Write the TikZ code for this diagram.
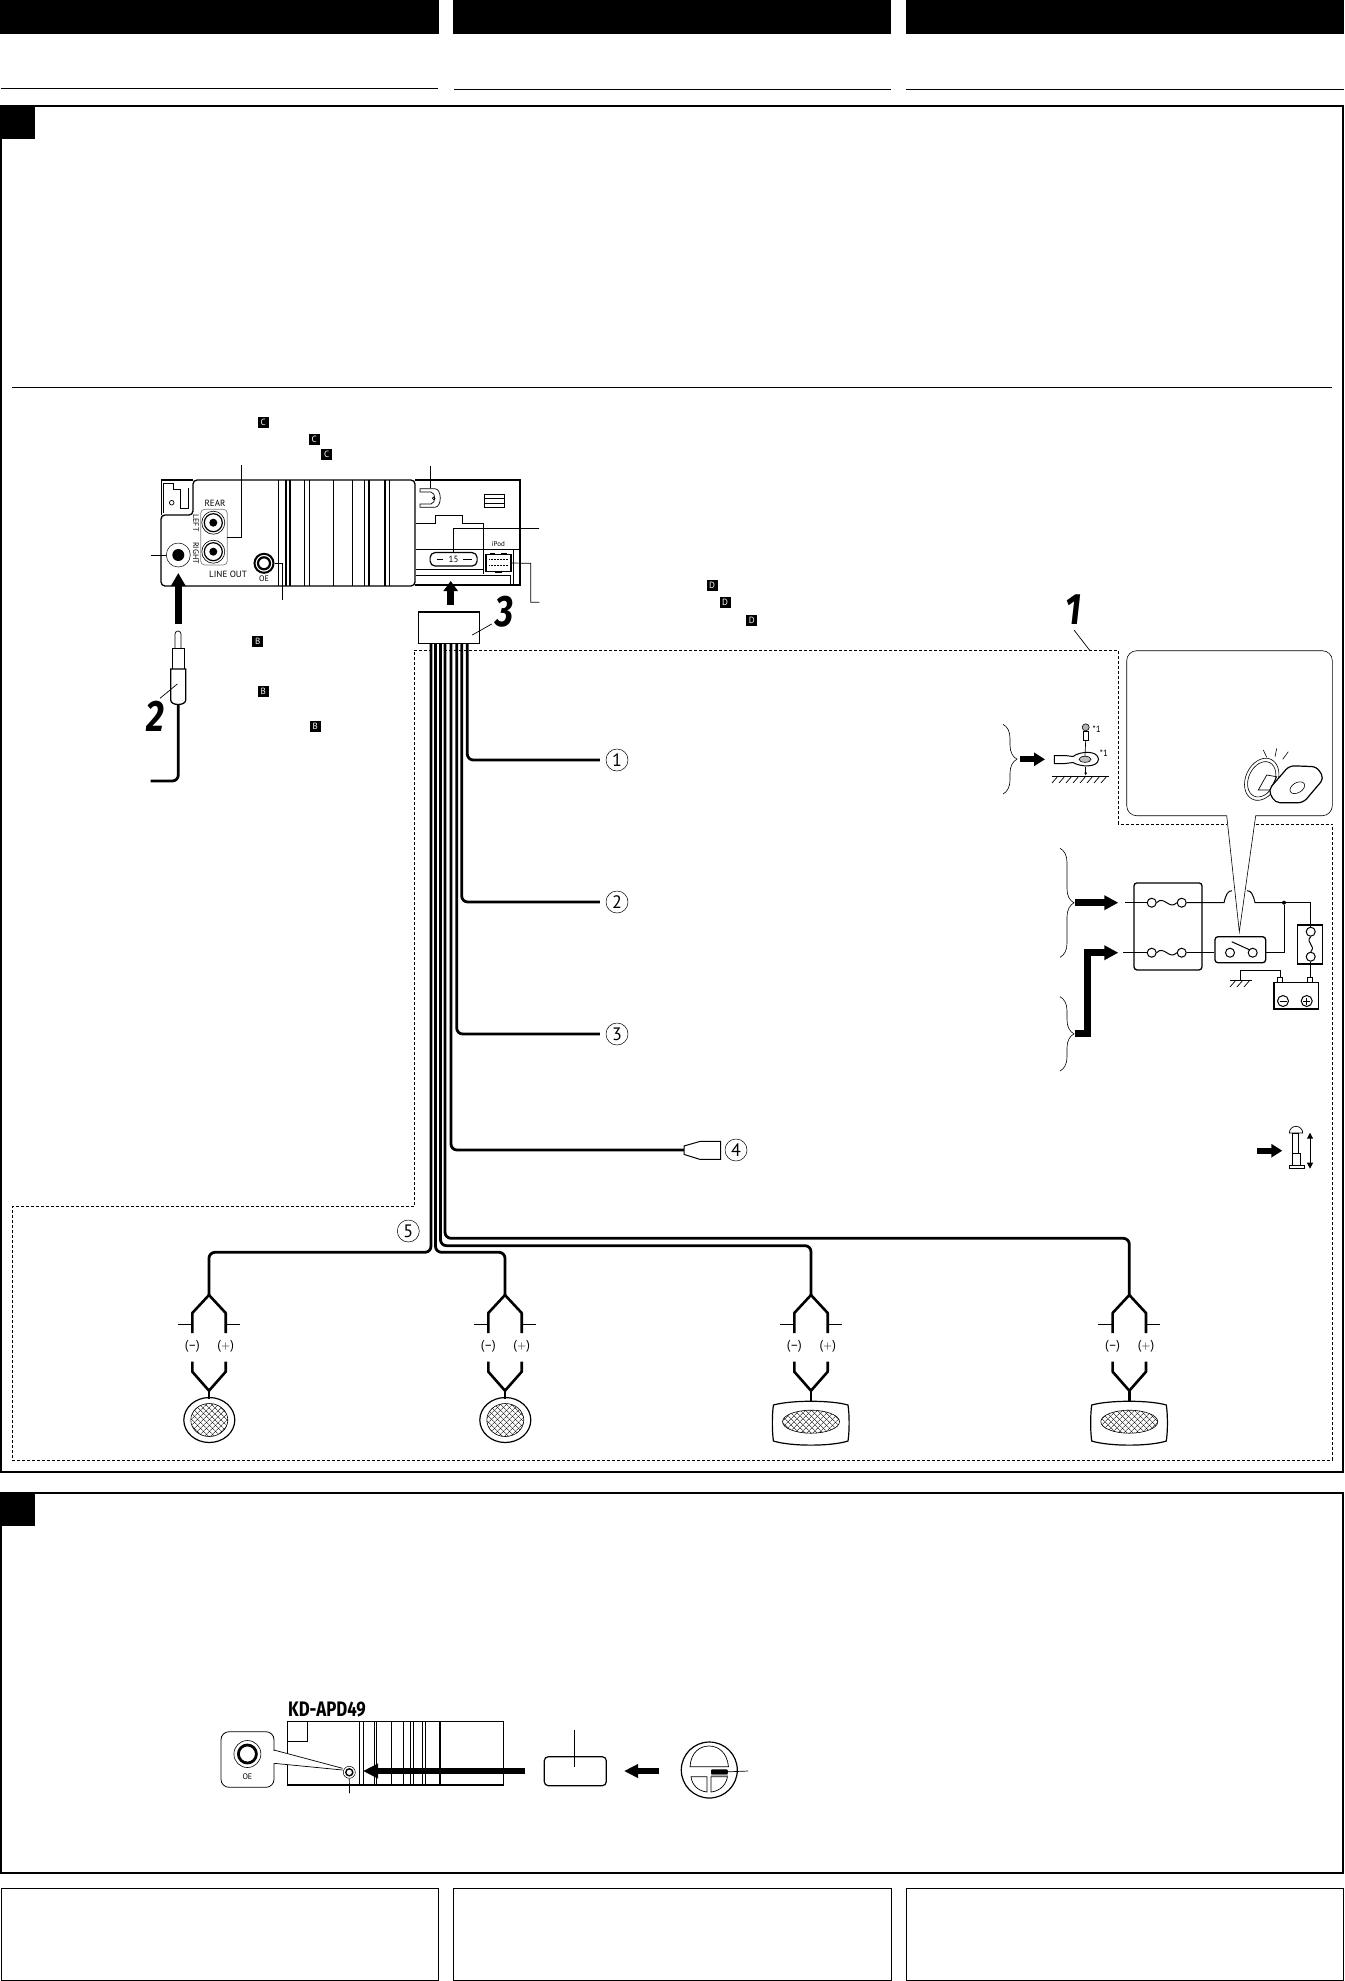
\documentclass[tikz,border=0pt]{standalone}
\usepackage{fontspec}
\setmainfont{PT Sans}
\newfontfamily\numfont[FakeStretch=0.8]{Fira Sans}
\usetikzlibrary{arrows.meta,patterns.meta,shapes.geometric,decorations.pathreplacing}

\begin{document}
\begin{tikzpicture}[x=1pt, y=-1pt,
  frame/.style={line width=1.6pt},
  outline/.style={line width=1.3pt},
  thin line/.style={line width=.6pt},
  lead/.style={line width=.7pt},
  wire/.style={line width=2.8pt, rounded corners=6pt},
  fork/.style={line width=2.6pt, line join=bevel},
  dashframe/.style={line width=1pt, dash pattern=on 3pt off 2pt},
  bigarrow/.style={line width=6.5pt, -{Triangle[length=13pt,width=14pt]}},
  num/.style={circle, draw, fill=white, line width=.5pt, inner sep=0pt, minimum size=22pt, font=\fontsize{18}{18}\selectfont},
  bignum/.style={inner sep=0pt, font=\numfont\bfseries\itshape\fontsize{44}{44}\selectfont},
  badge/.style={fill=black, text=white, inner sep=0pt, minimum size=11pt, font=\fontsize{9}{9}\selectfont},
  small/.style={inner sep=0pt, font=\fontsize{9}{9}\selectfont},
  pol/.style={inner sep=0pt, font=\fontsize{13}{13}\selectfont},
  term/.style={circle, draw, fill=white, line width=1pt, inner sep=0pt, minimum size=9pt},
  bracedown/.style={thin line, decorate, decoration={brace, amplitude=14pt}},
  meshed/.style={preaction={pattern={Lines[angle=45,distance=4pt,line width=.5pt]}},
    pattern={Lines[angle=-45,distance=4pt,line width=.5pt]}}]
  \useasboundingbox (0,0) rectangle (1344,1981);

  % Page
  \fill (0,0) rectangle (439,34);
  \fill (453,0) rectangle (891,34);
  \fill (906,0) rectangle (1344,34);
  \draw[line width=1pt] (1,88.5) -- (438,88.5);
  \draw[line width=1pt] (454,89) -- (891,89);
  \draw[line width=1pt] (906,89) -- (1344,89);
  \draw[frame] (1,106) rectangle (1343,1472);
  \fill (0,106) rectangle (35,139);
  \draw[line width=.8pt] (12,387) -- (1332,387);
  \draw[frame] (1,1493) rectangle (1343,1873);
  \fill (0,1493) rectangle (35,1526);
  \draw[line width=.8pt] (1,1888) rectangle (438,1980);
  \draw[line width=.8pt] (453,1888) rectangle (891,1980);
  \draw[line width=.8pt] (906,1888) rectangle (1343,1980);

  % Dashed area
  \coordinate (d1) at (414,650.7);
  \coordinate (d2) at (1118.3,650.7);
  \draw[dashframe] (d1) -- (d2) -- (1118.3,824) -- (1332.3,824) -- (1332.3,1460) -- (12,1460) -- (12,1206.7) -- (414,1206.7) -- cycle;

  % Unit
  \draw[outline, rounded corners=4pt] (193,515) -- (193,480) -- (415,480) -- (415,586) -- (161,586) -- (161,515) -- cycle;
  \draw[outline] (161.5,515) -- (161.5,480) -- (193,480);
  \draw[lead] (163.3,513.3) -- (163.3,483.3) -- (173.3,483.3) -- (173.3,489.3) -- (180,489.3) -- (180,508.3) -- (188.3,508.3) -- (188.3,488.3);
  \draw[lead] (171.7,502.7) circle (2.3);
  \draw[outline] (415,480) -- (520,480) -- (520,585) -- (415,585);
  \draw[line width=1.6pt] (278.3,480) -- (278.3,586);
  \draw[line width=1.6pt] (285.7,480) -- (285.7,586);
  \draw[line width=1.6pt] (290,480) -- (290,586);
  \draw[lead] (304.3,480) -- (304.3,586);
  \draw[lead] (309.3,480) -- (309.3,586);
  \draw[lead] (333.3,480) -- (333.3,586);
  \draw[line width=1.6pt] (352.3,480) -- (352.3,586);
  \draw[line width=1.6pt] (364.3,480) -- (364.3,586);
  \draw[line width=1.2pt] (369,480) -- (369,586);
  \draw[line width=1.6pt] (385,480) -- (385,586);
  \draw[line width=1.2pt] (389.3,480) -- (389.3,586);

  % Line out
  \node[small] (rear) at (215,503) {REAR};
  \node[small, rotate=-90, font=\fontsize{8}{8}\selectfont] (left) at (196,523) {LEFT};
  \node[small, rotate=-90, font=\fontsize{8}{8}\selectfont] (right) at (196,553) {RIGHT};
  \node[small] (lineout) at (228,574) {LINE OUT};
  \draw[lead, rounded corners=4pt, gray] (200.7,509.3) rectangle (227.3,565);
  \node[circle, draw, line width=.6pt, minimum size=23pt, inner sep=0pt] (rca1o) at (213.3,522.7) {};
  \node[circle, draw, line width=1.2pt, minimum size=18pt, inner sep=0pt] at (rca1o) {};
  \node[circle, fill, minimum size=8pt, inner sep=0pt] at (rca1o) {};
  \node[circle, draw, line width=.6pt, minimum size=23pt, inner sep=0pt] (rca2o) at (213.3,551.7) {};
  \node[circle, draw, line width=1.2pt, minimum size=18pt, inner sep=0pt] at (rca2o) {};
  \node[circle, fill, minimum size=8pt, inner sep=0pt] at (rca2o) {};
  \coordinate (lineoutlead) at (241.7,465);
  \draw[lead] (lineoutlead) -- (241.7,537.3) -- (227.3,537.3);

  % Antenna jack
  \node[circle, draw, line width=.5pt, minimum size=24pt, inner sep=0pt] (antjack) at (178.3,555) {};
  \node[circle, fill, minimum size=12pt, inner sep=0pt] at (antjack) {};
  \coordinate (antlead) at (150.7,555);
  \draw[lead] (antlead) -- (antjack.west);

  % Optical out
  \node[circle, draw, line width=2pt, minimum size=19pt, inner sep=0pt] (oe) at (264,563.3) {};
  \node[circle, draw, line width=2.2pt, minimum size=12pt, inner sep=0pt] at (oe) {};
  \node[small, font=\fontsize{8}{8}\selectfont] (oelabel) at (264,579) {OE};
  \coordinate (oelead) at (282.3,600);
  \draw[lead] (oe.east) -| (oelead);

  % Top right of the unit
  \coordinate (brlead) at (430.7,466);
  \draw[lead] (brlead) -- (430.7,488.3);
  \draw[lead] (420,488.7) -- (435,488.7) .. controls (442,489) and (442,507) .. (435,507.3) -- (420,507.3) -- (420,504) -- (431,504) .. controls (436,503) and (436,493) .. (431,492) -- (420,492) -- cycle;
  \draw[lead] (433.7,498.3) circle (1.3);
  \draw[lead] (484.3,494.3) rectangle (504.3,507.3);
  \draw[lead] (484.3,498.6) -- (504.3,498.6);
  \draw[lead] (484.3,502.9) -- (504.3,502.9);
  \draw[lead] (416,523.3) -- (435,523.3) -- (435,515.7) -- (462.3,515.7) -- (462.3,523.3) -- (483.3,523.3) -- (483.3,574);
  \draw[thin line] (416,549) -- (520,549);
  \draw[thin line] (416,569.3) -- (483.3,569.3);
  \draw[line width=1pt] (416,575) -- (510.7,575) -- (510.7,585);
  \draw[thin line] (513.3,549) -- (513.3,585);
  \node[small, font=\fontsize{7}{7}\selectfont] (ipod) at (498.3,544.3) {iPod};

  % Fuse
  \node[draw, line width=1.2pt, rounded corners=5pt, minimum width=47pt, minimum height=13.5pt, inner sep=0pt, font=\fontsize{9}{9}\selectfont] (fuse15) at (453.6,559.3) {15};
  \draw[line width=1.6pt] (436.7,559.3) -- (443.3,559.3);
  \draw[line width=1.6pt] (463.3,559.3) -- (471.7,559.3);
  \coordinate (fuselead) at (539.3,528.3);
  \draw[lead] (fuselead) -| (fuse15.north);

  % iPod terminal
  \node[draw, line width=1.4pt, minimum width=25pt, minimum height=17.5pt, inner sep=0pt] (ipodconn) at (498.3,563) {};
  \draw[line width=.5pt, densely dotted] (489.3,559.3) -- (508.3,559.3);
  \draw[line width=.5pt, densely dotted] (489.3,565) -- (508.3,565);
  \fill (490,552.5) rectangle (495,555);
  \fill (501,552.5) rectangle (507,555);
  \fill (495,571) rectangle (502,573);
  \coordinate (ipodlead) at (539.3,602.3);
  \draw[lead] (ipodconn.east) -- (530.7,563.3) -- (530.7,602.3) -- (ipodlead);

  % Antenna plug
  \coordinate (antfrom) at (178.3,624);
  \coordinate (antto) at (178.3,573);
  \draw[bigarrow] (antfrom) -- (antto);
  \draw[lead] (175,648) -- (175,634) arc[start angle=180, end angle=360, radius=3] -- (181,648);
  \draw[lead] (172.7,648) rectangle (184,669);
  \draw[outline, fill=white] (170.7,669) -- (185.7,669) -- (185.7,700) .. controls (185.7,706) and (170.7,706) .. (170.7,700) -- cycle;
  \coordinate (plug) at (178.3,705);
  \coordinate (plugend) at (150.7,781);
  \draw[wire] (plug) |- (plugend);
  \node[bignum] (two) at (155.7,716.7) {2};
  \coordinate (twoa) at (177.3,684);
  \coordinate (twob) at (160,698.3);
  \draw[lead] (twoa) -- (twob);

  % Connector
  \coordinate (connfrom) at (450.7,605);
  \coordinate (connto) at (450.7,581);
  \draw[line width=7pt, -{Triangle[length=10pt,width=14pt]}] (connfrom) -- (connto);
  \node[draw, line width=1.6pt, minimum width=61pt, minimum height=31.6pt, inner sep=0pt] (conn) at (448.8,627.5) {};
  \node[bignum] (three) at (504,611.7) {3};
  \coordinate (threea) at (472.3,635);
  \coordinate (threeb) at (491.7,624);
  \draw[lead] (threea) -- (threeb);
  \node[bignum] (one) at (1073.6,610) {1};
  \coordinate (onea) at (1074,630);
  \draw[lead] (onea) -- (1090,650.7);

  % Wires
  \node[num] (num1) at (617,760) {1};
  \node[num] (num2) at (617,902) {2};
  \node[num] (num3) at (617,1034) {3};
  \node[num] (num4) at (736,1150) {4};
  \node[num] (num5) at (408.3,1231) {5};
  \coordinate (w1) at (467.3,643);
  \coordinate (w2) at (461.7,643);
  \coordinate (w3) at (456.7,643);
  \coordinate (w4) at (451,643);
  \coordinate (w5) at (445,643);
  \coordinate (w6) at (440.5,643);
  \coordinate (w7) at (435.5,643);
  \coordinate (w8) at (431,643);
  \coordinate (plug4) at (684,1150);
  \draw[wire, shorten >=6pt] (w1) |- (num1.west);
  \draw[wire, shorten >=6pt] (w2) |- (num2.west);
  \draw[wire, shorten >=6pt] (w3) |- (num3.west);
  \draw[wire] (w4) |- (plug4);
  \draw[outline, fill=white, line width=1pt] (plug4) -- (684,1146) -- (700,1141.4) -- (720.7,1141.4) -- (720.7,1159.4) -- (700,1159.4) -- (684,1154.4) -- cycle;
  \coordinate (c5) at (1129.3,1238.3);
  \coordinate (c6) at (811,1245.7);
  \coordinate (c7) at (505,1252.3);
  \coordinate (c8) at (209,1252.3);
  \draw[wire] (w5) |- (c5) -- (1129.3,1296);
  \draw[wire] (w6) |- (c6) -- (811,1296);
  \draw[wire] (w7) |- (c7) -- (505,1296);
  \draw[wire] (w8) |- (c8) -- (209,1296);

  % Speakers
  \begin{scope}[shift={(209,0)}]
    \draw[fork] (-16.7,1333) -- (-16.7,1313) -- (0,1295) -- (16.7,1313) -- (16.7,1333);
    \draw[lead] (-31,1324.3) -- (-17.5,1324.3);
    \draw[lead] (17.5,1324.3) -- (31,1324.3);
    \node[pol] (mn1) at (-16.7,1346.5) {(–)};
    \node[pol] (pl1) at (16.7,1346.5) {($+$)};
    \draw[fork] (-16.7,1361.7) -- (-16.7,1371.7) -- (0,1390.7) -- (16.7,1371.7) -- (16.7,1361.7);
    \draw[fork] (0,1390.7) -- (0,1399);
    \node[ellipse, draw, line width=1.2pt, minimum width=51pt, minimum height=45pt, inner sep=0pt] (spk1) at (0.3,1420) {};
    \node[ellipse, draw, line width=.6pt, minimum width=37pt, minimum height=33pt, inner sep=0pt, meshed] (mesh1) at (spk1) {};
  \end{scope}
  \begin{scope}[shift={(505,0)}]
    \draw[fork] (-16.7,1333) -- (-16.7,1313) -- (0,1295) -- (16.7,1313) -- (16.7,1333);
    \draw[lead] (-31,1324.3) -- (-17.5,1324.3);
    \draw[lead] (17.5,1324.3) -- (31,1324.3);
    \node[pol] (mn2) at (-16.7,1346.5) {(–)};
    \node[pol] (pl2) at (16.7,1346.5) {($+$)};
    \draw[fork] (-16.7,1361.7) -- (-16.7,1371.7) -- (0,1390.7) -- (16.7,1371.7) -- (16.7,1361.7);
    \draw[fork] (0,1390.7) -- (0,1399);
    \node[ellipse, draw, line width=1.2pt, minimum width=51pt, minimum height=45pt, inner sep=0pt] (spk2) at (0.3,1420) {};
    \node[ellipse, draw, line width=.6pt, minimum width=37pt, minimum height=33pt, inner sep=0pt, meshed] (mesh2) at (spk2) {};
  \end{scope}
  \begin{scope}[shift={(811,0)}]
    \draw[fork] (-16.7,1333) -- (-16.7,1313) -- (0,1295) -- (16.7,1313) -- (16.7,1333);
    \draw[lead] (-31,1324.3) -- (-17.5,1324.3);
    \draw[lead] (17.5,1324.3) -- (31,1324.3);
    \node[pol] (mn3) at (-16.7,1346.5) {(–)};
    \node[pol] (pl3) at (16.7,1346.5) {($+$)};
    \draw[fork] (-16.7,1361.7) -- (-16.7,1371.7) -- (0,1390.7) -- (16.7,1371.7) -- (16.7,1361.7);
    \draw[fork] (0,1390.7) -- (0,1401);
    \draw[line width=1.2pt] (-37.6,1405) .. controls (-20,1400) and (20,1400) .. (37,1405) .. controls (38.5,1415) and (38.5,1431) .. (37,1441) .. controls (20,1446.5) and (-20,1446.5) .. (-37.6,1441) .. controls (-39,1431) and (-39,1415) .. (-37.6,1405) -- cycle;
    \node[ellipse, draw, line width=.6pt, minimum width=57pt, minimum height=23pt, inner sep=0pt, meshed] (mesh3) at (0,1421.7) {};
  \end{scope}
  \begin{scope}[shift={(1129.3,0)}]
    \draw[fork] (-16.7,1333) -- (-16.7,1313) -- (0,1295) -- (16.7,1313) -- (16.7,1333);
    \draw[lead] (-31,1324.3) -- (-17.5,1324.3);
    \draw[lead] (17.5,1324.3) -- (31,1324.3);
    \node[pol] (mn4) at (-16.7,1346.5) {(–)};
    \node[pol] (pl4) at (16.7,1346.5) {($+$)};
    \draw[fork] (-16.7,1361.7) -- (-16.7,1371.7) -- (0,1390.7) -- (16.7,1371.7) -- (16.7,1361.7);
    \draw[fork] (0,1390.7) -- (0,1401);
    \draw[line width=1.2pt] (-37.6,1405) .. controls (-20,1400) and (20,1400) .. (37,1405) .. controls (38.5,1415) and (38.5,1431) .. (37,1441) .. controls (20,1446.5) and (-20,1446.5) .. (-37.6,1441) .. controls (-39,1431) and (-39,1415) .. (-37.6,1405) -- cycle;
    \node[ellipse, draw, line width=.6pt, minimum width=57pt, minimum height=23pt, inner sep=0pt, meshed] (mesh4) at (0,1421.7) {};
  \end{scope}

  % Ground lug
  \draw[bracedown] (1003,724.3) -- (1003,794);
  \coordinate (gndfrom) at (1020,759.3);
  \coordinate (gndto) at (1045,759.3);
  \draw[line width=6pt, -{Triangle[length=11pt,width=13pt]}] (gndfrom) -- (gndto);
  \draw[line width=1pt, fill=white] (1054.3,755.5) -- (1065,755.5) -- (1073,756.5) .. controls (1080,751) and (1098,750) .. (1098.5,759.3) .. controls (1098,768) and (1080,767) .. (1073,762.5) -- (1065,763.5) -- (1054.3,763.5) -- cycle;
  \node[ellipse, draw, fill=gray!50, line width=.6pt, minimum width=12pt, minimum height=6pt, inner sep=0pt] (lughole) at (1085,759.3) {};
  \node[circle, draw, fill=gray!60, line width=.6pt, minimum size=7pt, inner sep=0pt] (screw) at (1085.7,727.3) {};
  \draw[lead] (1083.3,731.5) rectangle (1088.3,740);
  \draw[lead] (1085.7,740) -- (lughole.north);
  \draw[thin line, -{Latex[length=3pt,width=3pt]}] (1085.7,766.5) -- (1085.7,775.5);
  \node[small] (star1) at (1096.7,729) {*1};
  \node[small] (star2) at (1104,753.3) {*1};
  \draw[lead] (1051.7,776) -- (1109.3,776);
  \draw[lead] (1058,776) -- (1052,783);
  \draw[lead] (1065,776) -- (1059,783);
  \draw[lead] (1072,776) -- (1066,783);
  \draw[lead] (1079,776) -- (1073,783);
  \draw[lead] (1086,776) -- (1080,783);
  \draw[lead] (1093,776) -- (1087,783);
  \draw[lead] (1100,776) -- (1094,783);
  \draw[lead] (1107,776) -- (1101,783);

  % Balloon with key
  \draw[thin line, fill=white, rounded corners=10pt] (1226.7,815.7) -- (1126.7,815.7) -- (1126.7,650.7) -- (1332.3,650.7) -- (1332.3,815.7) -- (1255.7,815.7);
  \fill[white] (1227,813) rectangle (1255.4,826);
  \coordinate (balloona) at (1226.7,815.7);
  \coordinate (balloonb) at (1255.7,815.7);
  \coordinate (balloontip) at (1239.3,931.7);
  \draw[thin line] (balloona) -- (balloontip) -- (balloonb);
  \node[ellipse, draw, line width=.6pt, minimum width=32pt, minimum height=44pt, inner sep=0pt, rotate=-25] (ring) at (1261.7,779.3) {};
  \node[ellipse, draw, line width=.6pt, minimum width=26pt, minimum height=37pt, inner sep=0pt, rotate=-25] at (ring) {};
  \draw[lead] (1258.3,790) -- (1266.7,775) -- (1276.7,776.7) -- (1270,790) -- cycle;
  \draw[line width=1.2pt, fill=white, rounded corners=5pt] (1268.3,790) -- (1289.3,765.7) -- (1316.7,766.7) -- (1324,778.3) -- (1303.3,802.7) -- (1275,802.7) -- cycle;
  \node[ellipse, draw, line width=.6pt, minimum width=16pt, minimum height=10pt, inner sep=0pt, rotate=30] (keyhole) at (1297.3,787.7) {};
  \draw[thin line] (1266.7,757.3) -- (1263.3,750);
  \draw[thin line] (1275,756.7) -- (1276.7,748.3);
  \draw[thin line] (1282.7,759.3) -- (1288.3,751.7);

  % Switch box
  \draw[bracedown] (1060,848.3) -- (1060,957.3);
  \draw[bracedown] (1060,996.7) -- (1060,1071);
  \coordinate (accfrom) at (1075,902.7);
  \coordinate (accto) at (1118.3,902.7);
  \draw[line width=6.5pt, -{Triangle[length=14pt,width=14pt]}] (accfrom) -- (accto);
  \coordinate (batfrom) at (1075,1033.3);
  \coordinate (batbend) at (1087.3,952.7);
  \coordinate (batto) at (1118.3,952.7);
  \draw[line width=6.5pt, miter limit=3, -{Triangle[length=14pt,width=14pt]}] (batfrom) -| (batbend) -- (batto);
  \node[draw, line width=1.3pt, rounded corners=3pt, minimum width=68pt, minimum height=87pt, inner sep=0pt] (fusebox) at (1168,926.4) {};
  \node[term] (s1a) at (1151.7,902.7) {};
  \node[term] (s1b) at (1181.7,902.7) {};
  \node[term] (s2a) at (1151.7,952.7) {};
  \node[term] (s2b) at (1181.7,952.7) {};
  \draw[line width=1pt] (s1a.east) .. controls +(7,-8) and +(-7,8) .. (s1b.west);
  \draw[line width=1pt] (s2a.east) .. controls +(7,-8) and +(-7,8) .. (s2b.west);
  \coordinate (in1) at (1125,902.7);
  \coordinate (in2) at (1123.3,952.7);
  \draw[line width=1pt] (in1) -- (s1a.west);
  \draw[line width=1pt] (in2) -- (s2a.west);

  % Ignition switch
  \node[draw, line width=1.3pt, rounded corners=3pt, minimum width=50.7pt, minimum height=26pt, inner sep=0pt] (ign) at (1240.3,949.7) {};
  \node[term] (ig1) at (1230,952.7) {};
  \node[term] (ig2) at (1252.7,952.7) {};
  \draw[line width=1pt] (1231.7,941.7) -- (1250,950);
  \draw[line width=1pt] (s2b.east) -- (ig1 -| ign.west);
  \node[circle, fill, minimum size=4pt, inner sep=0pt] (junc) at (1284,902.7) {};
  \draw[line width=1pt] (ig2 -| ign.east) -| (junc);
  \draw[line width=1pt] (s1b.east) -- (1224,902.7) .. controls (1226,894) and (1228,890.7) .. (1232,890.7);
  \draw[line width=1pt] (1247,890.7) .. controls (1251,890.7) and (1253,894) .. (1255,902.7) -- (junc);

  % Battery
  \node[draw, line width=1.3pt, minimum width=24.6pt, minimum height=39pt, inner sep=0pt] (fusea) at (1310,944.5) {};
  \node[term] (f1) at (1310.7,931.7) {};
  \node[term] (f2) at (1310.7,956.7) {};
  \draw[line width=1pt] (f1.south) .. controls +(-6,6) and +(6,-6) .. (f2.north);
  \draw[line width=1pt] (junc) -| (f1.north);
  \node[draw, line width=1.3pt, minimum width=44.3pt, minimum height=26.3pt, inner sep=0pt] (batt) at (1296.2,995.8) {};
  \draw[line width=1pt] (f2.south) -- (1310.7,978);
  \draw[line width=1pt, fill=white] (1277.3,977.3) rectangle (1282.7,982.7);
  \draw[line width=1pt, fill=white] (1307.3,977.3) rectangle (1312.7,982.7);
  \draw[line width=1pt] (1283,1001) circle (5.5);
  \draw[line width=1pt] (1279.5,1001) -- (1286.5,1001);
  \draw[line width=1pt] (1306.7,1001) circle (5.5);
  \draw[line width=1pt] (1303.2,1001) -- (1310.2,1001);
  \draw[line width=1pt] (1306.7,997.5) -- (1306.7,1004.5);
  \draw[line width=.9pt] (1280,977.3) -- (1280,970.7) -- (1240.7,970.7) -- (1240.7,980);
  \draw[line width=.9pt] (1230,980) -- (1251.7,980);
  \draw[lead] (1236,980) -- (1230,987);
  \draw[lead] (1243,980) -- (1237,987);
  \draw[lead] (1250,980) -- (1244,987);

  % Aerial
  \coordinate (rodfrom) at (1257.3,1150.7);
  \coordinate (rodto) at (1282.3,1150.7);
  \draw[line width=6pt, -{Triangle[length=11pt,width=13pt]}] (rodfrom) -- (rodto);
  \draw[lead] (1289.3,1133) arc[start angle=180, end angle=360, radius=6.7] -- cycle;
  \draw[lead] (1292.7,1133.3) rectangle (1298.3,1153.3);
  \draw[lead] (1292.7,1153.3) rectangle (1300.7,1165.7);
  \draw[lead] (1289.3,1165.7) rectangle (1304,1168.7);
  \coordinate (rodtop) at (1310,1132.7);
  \coordinate (rodbot) at (1310,1168.7);
  \draw[line width=1pt, {Triangle[length=6pt,width=6pt]}-{Triangle[length=6pt,width=6pt]}] (rodtop) -- (rodbot);

  % Badges
  \node[badge] (c1) at (263.3,422) {C};
  \node[badge] (c2) at (314.3,439.3) {C};
  \node[badge] (c3) at (326.7,454.3) {C};
  \node[badge] (b1) at (257.7,641) {B};
  \node[badge] (b2) at (263.3,691) {B};
  \node[badge] (b3) at (315.3,726) {B};
  \node[badge] (d1b) at (712,585) {D};
  \node[badge] (d2b) at (725,602.7) {D};
  \node[badge] (d3b) at (751.7,620) {D};

  % Lower part
  \node[inner sep=0pt, font=\numfont\bfseries\fontsize{21}{21}\selectfont] (model) at (327,1709) {KD-APD49};
  \draw[outline] (503.7,1721.7) -- (287.8,1721.7) -- (287.8,1785) -- (503.7,1785) -- cycle;
  \draw[lead] (307.4,1721.7) -- (307.4,1741.7) -- (287.8,1741.7);
  \draw[lead] (359.3,1721.7) -- (359.3,1785);
  \draw[lead] (363,1721.7) -- (363,1785);
  \draw[line width=1pt] (374,1721.7) -- (374,1785);
  \draw[lead] (376.7,1721.7) -- (376.7,1785);
  \draw[lead] (391.5,1721.7) -- (391.5,1785);
  \draw[lead] (403,1721.7) -- (403,1785);
  \draw[lead] (410,1721.7) -- (410,1785);
  \draw[line width=1pt] (413,1721.7) -- (413,1785);
  \draw[lead] (422.2,1721.7) -- (422.2,1785);
  \draw[lead] (425.2,1721.7) -- (425.2,1785);
  \draw[line width=1.6pt] (440,1721.7) -- (440,1785);
  \fill[white] (287,1757) rectangle (288.5,1764);
  \node[circle, draw, line width=.5pt, fill=white, minimum size=12pt, inner sep=0pt] (oe2) at (349.3,1772.3) {};
  \node[circle, draw, line width=1.4pt, minimum size=7pt, inner sep=0pt] at (oe2) {};
  \draw[lead, fill=white] (342.6,1770) -- (274,1763.3) -- (274,1750) -- (342.6,1768.3);
  \node[draw, line width=.8pt, rounded corners=8pt, fill=white, minimum width=53pt, minimum height=55.6pt, inner sep=0pt] (zoombox) at (247.5,1759.5) {};
  \fill[white] (272,1750.5) rectangle (275,1763);
  \node[circle, draw, line width=.6pt, minimum size=27pt, inner sep=0pt] (oe3) at (247.4,1754) {};
  \node[circle, draw, line width=2.8pt, minimum size=18pt, inner sep=0pt] at (oe3) {};
  \node[small, font=\fontsize{8}{8}\selectfont] (oe3label) at (247.4,1776.7) {OE};
  \coordinate (oe2lead) at (349.6,1793.3);
  \draw[lead] (oe2.south) -- (oe2lead);
  \coordinate (longfrom) at (525.2,1771);
  \coordinate (longto) at (363,1771);
  \draw[line width=6.7pt, -{Triangle[length=15pt,width=14pt]}] (longfrom) -- (longto);
  \node[draw, line width=1.2pt, rounded corners=4pt, minimum width=62pt, minimum height=29pt, inner sep=0pt] (cordbox) at (575.3,1771.2) {};
  \coordinate (cordlead) at (574.8,1730);
  \draw[lead] (cordlead) -- (574.8,1766.7);
  \coordinate (discfrom) at (659.3,1771);
  \coordinate (discto) at (624,1771);
  \draw[line width=6pt, -{Triangle[length=14pt,width=13pt]}] (discfrom) -- (discto);
  \node[circle, draw, line width=1.2pt, minimum size=56pt, inner sep=0pt] (disc) at (709.3,1770) {};
  \draw[lead] (690,1766.7) -- (728.5,1766.7) .. controls (727,1752) and (718,1746) .. (709,1746) .. controls (700,1746) and (691,1752) .. cycle;
  \draw[lead] (691,1776.7) -- (707,1776.7) -- (707,1792) .. controls (698,1791) and (692,1785) .. cycle;
  \draw[lead] (711,1776.7) -- (727.5,1776.7) .. controls (726,1785) and (720,1791) .. (711,1792) -- cycle;
  \fill[gray!60] (711,1774) rectangle (727.8,1776);
  \node[fill, rounded corners=1pt, minimum width=16.8pt, minimum height=5pt, inner sep=0pt] (discbar) at (719.4,1771.8) {};
  \coordinate (disclead) at (748,1771);
  \draw[lead] (discbar.east) -- (disclead);
\end{tikzpicture}
\end{document}
